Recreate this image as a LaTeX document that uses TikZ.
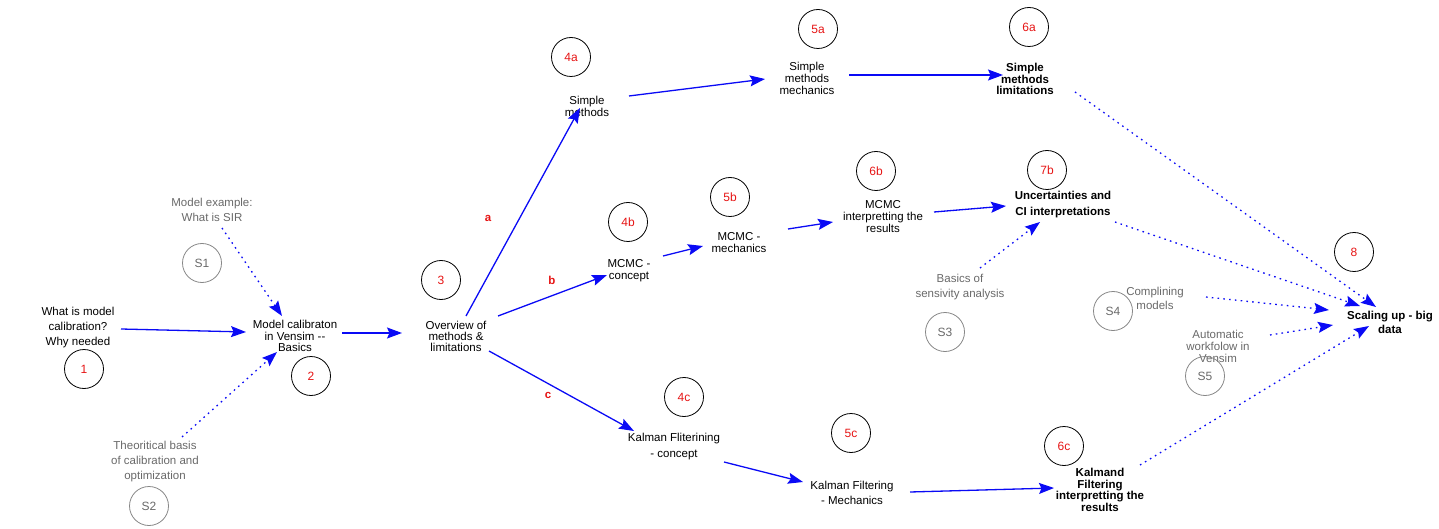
\documentclass[tikz,border=0pt]{standalone}
\usepackage{fontspec}
\setmainfont{Liberation Sans}
\usetikzlibrary{arrows.meta}
\definecolor{arrowblue}{RGB}{10,10,245}
\definecolor{numred}{RGB}{230,20,20}
\definecolor{sidegray}{RGB}{105,105,105}
\newcommand{\fs}[1]{\fontsize{11.5}{#1}\selectfont}
\begin{document}
\begin{tikzpicture}[x=1pt,y=-1pt,
  topic/.style={inner sep=0pt,align=center,text=black},
  bold/.style={topic,font=\bfseries},
  side/.style={inner sep=0pt,align=center,text=sidegray},
  numcircle/.style={circle,draw=black,line width=0.8pt,minimum size=39pt,inner sep=0pt,
    text=numred,font=\fontsize{12}{13}\selectfont},
  sidecircle/.style={circle,draw=sidegray!80,line width=0.8pt,minimum size=39pt,inner sep=0pt,
    text=sidegray,font=\fontsize{12}{13}\selectfont},
  branch/.style={text=numred,font=\fontsize{11.5}{12}\selectfont\bfseries},
  flow/.style={draw=arrowblue,line width=1.3pt,
    -{Stealth[length=15pt,width=11pt,inset=2.5pt]},arrowblue},
  feed/.style={flow,dash pattern=on 1.6pt off 4.2pt}]
\useasboundingbox (0,0) rectangle (1439,529);

% main topics
\node[topic,font=\fs{15}]   (t1)  at (78,328)   {What is model\\calibration?\\Why needed};
\node[topic,font=\fs{11.5}] (t2)  at (295,336)  {Model calibraton\\in Vensim -{}-\\Basics};
\node[topic,font=\fs{11}]   (t3)  at (456,336)  {Overview of\\methods \&\\limitations};
\node[topic,font=\fs{12}]   (t4a) at (587,106)  {Simple\\methods};
\node[topic,font=\fs{12}]   (t5a) at (807,78)   {Simple\\methods\\mechanics};
\node[bold,font=\fs{11.5}\bfseries] (t6a) at (1025,79) {Simple\\methods\\limitations};
\node[topic,font=\fs{12}]   (t4b) at (629,271)  {MCMC -\\concept};
\node[topic,font=\fs{12}]   (t5b) at (739,243)  {MCMC -\\mechanics};
\node[topic,font=\fs{12}]   (t6b) at (883,217)  {MCMC\\interpretting the\\results};
\node[bold,font=\fs{16}\bfseries] (t7b) at (1063,205) {Uncertainties and\\CI interpretations};
\node[bold,font=\fs{14}\bfseries] (t8)  at (1390,322) {Scaling up - big\\data};
\node[topic,font=\fs{16}]   (t4c) at (674,447)  {Kalman Fliterining\\- concept};
\node[topic,font=\fs{15}]   (t5c) at (852,493)  {Kalman Filtering\\- Mechanics};
\node[bold,font=\fs{11.5}\bfseries] (t6c) at (1100,490) {Kalmand\\Filtering\\interpretting the\\results};

% side topics
\node[side,font=\fs{15}]   (s1t) at (212,210)  {Model example:\\What is SIR};
\node[side,font=\fs{15}]   (s2t) at (155,462)  {Theoritical basis\\of calibration and\\optimization};
\node[side,font=\fs{14.5}] (s3t) at (960,287)  {Basics of\\sensivity analysis};
\node[side,font=\fs{14}]   (s4t) at (1155,298) {Complining\\models};
\node[side,font=\fs{12}]   (s5t) at (1218,346) {Automatic\\workfolow in\\Vensim};

% numbered circles
\node[numcircle] (c1)  at (84,369)   {1};
\node[numcircle] (c2)  at (311,376)  {2};
\node[numcircle] (c3)  at (441,280)  {3};
\node[numcircle] (c4a) at (571,57)   {4a};
\node[numcircle] (c5a) at (818,29)   {5a};
\node[numcircle] (c6a) at (1029,27)  {6a};
\node[numcircle] (c4b) at (628,222)  {4b};
\node[numcircle] (c5b) at (730,197)  {5b};
\node[numcircle] (c6b) at (876,171)  {6b};
\node[numcircle] (c7b) at (1047,170) {7b};
\node[numcircle] (c8)  at (1354,252) {8};
\node[numcircle] (c4c) at (684,397)  {4c};
\node[numcircle] (c5c) at (851,433)  {5c};
\node[numcircle] (c6c) at (1064,446) {6c};
\node[sidecircle] (cs1) at (202,263)  {S1};
\node[sidecircle] (cs2) at (149,506)  {S2};
\node[sidecircle] (cs3) at (945,332)  {S3};
\node[sidecircle] (cs4) at (1113,311) {S4};
\node[sidecircle] (cs5) at (1205,376) {S5};

% branch letters
\node[branch] (la) at (488,218) {a};
\node[branch] (lb) at (552,280) {b};
\node[branch] (lc) at (548,395) {c};

% main flow
\draw[flow] ([shift={(43,1)}]t1.center)    -- ([shift={(-49,-4)}]t2.center);
\draw[flow] ([shift={(47,-3)}]t2.center)   -- ([shift={(-54,-3)}]t3.center);
\draw[flow] ([shift={(10,-20)}]t3.center)  -- ([shift={(-7,2)}]t4a.center);
\draw[flow] ([shift={(42,-20)}]t3.center)  -- ([shift={(-22,4)}]t4b.center);
\draw[flow] ([shift={(33,15)}]t3.center)   -- ([shift={(-40,-16)}]t4c.center);
\draw[flow] ([shift={(42,-10)}]t4a.center) -- ([shift={(-42,1)}]t5a.center);
\draw[flow] ([shift={(42,-3)}]t5a.center)  -- ([shift={(-22,-4)}]t6a.center);
\draw[flow] ([shift={(34,-15)}]t4b.center) -- ([shift={(-36,3)}]t5b.center);
\draw[flow] ([shift={(49,-14)}]t5b.center) -- ([shift={(-50,5)}]t6b.center);
\draw[flow] ([shift={(51,-5)}]t6b.center)  -- ([shift={(-57,1)}]t7b.center);
\draw[flow] ([shift={(50,15)}]t4c.center)  -- ([shift={(-49,-11)}]t5c.center);
\draw[flow] ([shift={(58,-1)}]t5c.center)  -- ([shift={(-46,-2)}]t6c.center);

% dotted feeds
\draw[feed] ([shift={(10,18)}]s1t.center)  -- ([shift={(-13,-20)}]t2.center);
\draw[feed] ([shift={(27,-25)}]s2t.center) -- ([shift={(-18,16)}]t2.center);
\draw[feed] ([shift={(20,-19)}]s3t.center) -- ([shift={(-23,17)}]t7b.center);
\draw[feed] ([shift={(50,13)}]t6a.center)  -- ([shift={(-14,-15)}]t8.center);
\draw[feed] ([shift={(52,17)}]t7b.center)  -- ([shift={(-30,-16)}]t8.center);
\draw[feed] ([shift={(51,-1)}]s4t.center)  -- ([shift={(-61,-12)}]t8.center);
\draw[feed] ([shift={(52,-11)}]s5t.center) -- ([shift={(-57,3)}]t8.center);
\draw[feed] ([shift={(40,-25)}]t6c.center) -- ([shift={(-21,4)}]t8.center);
\end{tikzpicture}
\end{document}
